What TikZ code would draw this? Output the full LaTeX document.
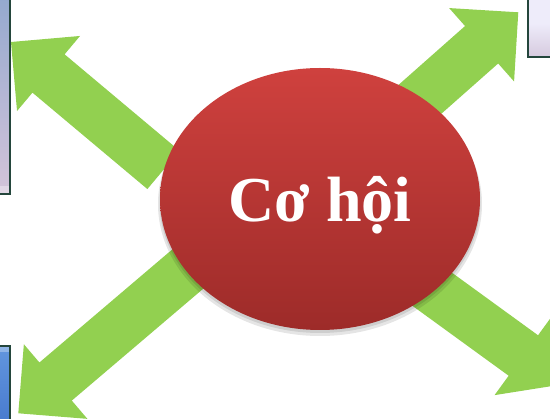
\documentclass[tikz,border=0pt]{standalone}
\usepackage{fontspec}
\setmainfont{Liberation Serif}
\usetikzlibrary{shapes.geometric}
\definecolor{arrowgreen}{RGB}{146,208,80}
\definecolor{redtop}{RGB}{207,65,62}
\definecolor{redbot}{RGB}{157,43,41}
\definecolor{frameedge}{RGB}{36,70,60}
\definecolor{tlboxtop}{RGB}{146,168,206}
\definecolor{tlboxbot}{RGB}{212,196,218}
\definecolor{trboxtop}{RGB}{238,236,250}
\definecolor{trboxbot}{RGB}{214,202,222}
\definecolor{blboxtop}{RGB}{98,150,222}
\definecolor{blboxbot}{RGB}{70,120,205}
\tikzset{
  blockarrow/.pic={
    \fill[arrowgreen] (0,0) -- (49,49) -- (49,25) -- (#1,25) -- (#1,-25)
      -- (49,-25) -- (49,-49) -- cycle;
  },
  sidebox/.style={draw=frameedge, line width=2pt},
  centre/.style={ellipse, minimum width=320, minimum height=262, inner sep=0pt,
    top color=redtop, bottom color=redbot},
  centretext/.style={text=white, font=\bfseries\fontsize{64}{70}\selectfont, inner sep=0pt}
}
\begin{document}
\begin{tikzpicture}[x=1pt,y=-1pt]
\useasboundingbox (0,0) rectangle (550,419);
\clip (0,0) rectangle (550,419);
% side boxes (cut by the picture edge)
\draw[sidebox, top color=tlboxtop, bottom color=tlboxbot] (-20,-10) rectangle (10,194);
\fill[white, opacity=0.35] (-20,186) rectangle (9,193);
\draw[sidebox, top color=trboxtop, bottom color=trboxbot, middle color=trboxtop] (528,-10) rectangle (570,57);
\draw[sidebox, top color=blboxtop, bottom color=blboxbot] (-20,346) rectangle (10,430);
\fill[white, opacity=0.3] (-20,347) rectangle (9,352);
% arrows
\pic (tl) [rotate=-40] at (11,42) {blockarrow=199};
\pic (tr) [rotate=-138.5] at (518.3,12.3) {blockarrow=240};
\pic (bl) [rotate=40.4] at (18.3,413.3) {blockarrow=240};
\pic (br) [rotate=-216] at (563,384.3) {blockarrow=240};
% shadow
\fill[black, opacity=0.10] (320,204) ellipse [x radius=162, y radius=132];
\fill[black, opacity=0.10] (320,202) ellipse [x radius=160.5, y radius=131];
% centre
\node[centre] (hub) at (320,199) {};
\node[centretext, anchor=base] (hubtext) at (320,222) {Cơ hội};
\end{tikzpicture}
\end{document}
